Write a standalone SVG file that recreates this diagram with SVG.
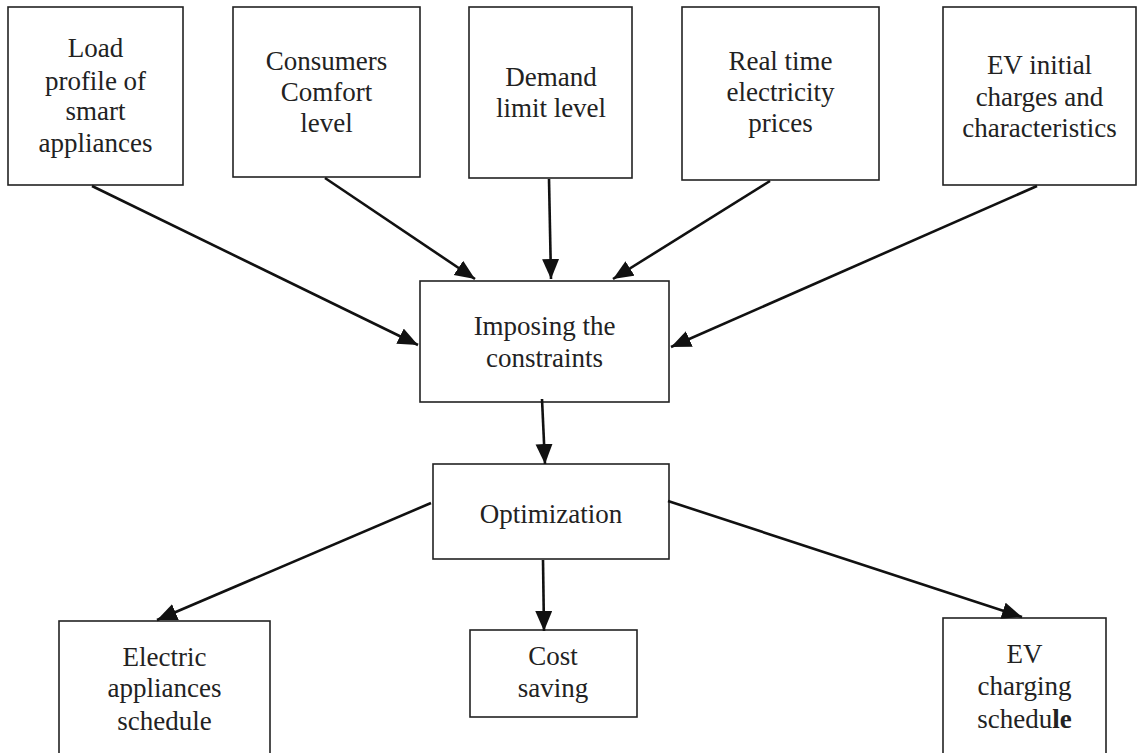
<svg xmlns="http://www.w3.org/2000/svg" width="1137" height="753" viewBox="0 0 1137 753">
<defs>
<style>
.box{fill:#fff;stroke:#222;stroke-width:1.6}
.t{font-family:"Liberation Serif","Times New Roman",serif;font-size:27px;fill:#222;text-anchor:middle}
.c{stroke:#111;stroke-width:2.6;fill:none;marker-end:url(#ah)}
</style>
<marker id="ah" markerUnits="userSpaceOnUse" markerWidth="22" markerHeight="18" refX="20" refY="8.5" orient="auto" viewBox="0 0 22 18">
<path d="M0,0 L20,8.5 L0,17 z" fill="#111"/>
</marker>
</defs>
<rect width="1137" height="753" fill="#fff"/>
<g id="n1"><rect class="box" x="8" y="7" width="175" height="178"/>
<text class="t"><tspan x="95.5" y="57">Load</tspan><tspan x="95.5" y="90">profile of</tspan><tspan x="95.5" y="120">smart</tspan><tspan x="95.5" y="152">appliances</tspan></text></g>
<g id="n2"><rect class="box" x="233" y="7" width="187" height="170"/>
<text class="t"><tspan x="326.5" y="70">Consumers</tspan><tspan x="326.5" y="101">Comfort</tspan><tspan x="326.5" y="132">level</tspan></text></g>
<g id="n3"><rect class="box" x="469" y="7" width="163" height="171"/>
<text class="t"><tspan x="551" y="86">Demand</tspan><tspan x="551" y="117">limit level</tspan></text></g>
<g id="n4"><rect class="box" x="682" y="7" width="197" height="173"/>
<text class="t"><tspan x="780.5" y="70">Real time</tspan><tspan x="780.5" y="101">electricity</tspan><tspan x="780.5" y="132">prices</tspan></text></g>
<g id="n5"><rect class="box" x="943" y="7" width="193" height="178"/>
<text class="t"><tspan x="1039.5" y="74">EV initial</tspan><tspan x="1039.5" y="106">charges and</tspan><tspan x="1039.5" y="137">characteristics</tspan></text></g>
<g id="n6"><rect class="box" x="420" y="281" width="249" height="121"/>
<text class="t"><tspan x="544.5" y="335">Imposing the</tspan><tspan x="544.5" y="367">constraints</tspan></text></g>
<g id="n7"><rect class="box" x="433" y="464" width="236" height="95"/>
<text class="t" x="551" y="523">Optimization</text></g>
<g id="n8"><rect class="box" x="59" y="621" width="211" height="140"/>
<text class="t"><tspan x="164.5" y="666">Electric</tspan><tspan x="164.5" y="697">appliances</tspan><tspan x="164.5" y="730">schedule</tspan></text></g>
<g id="n9"><rect class="box" x="470" y="630" width="167" height="87"/>
<text class="t"><tspan x="553" y="665">Cost</tspan><tspan x="553" y="697">saving</tspan></text></g>
<g id="n10"><rect class="box" x="943" y="618" width="163" height="143"/>
<text class="t"><tspan x="1024.5" y="663">EV</tspan><tspan x="1024.5" y="695">charging</tspan><tspan x="1024.5" y="728">schedu<tspan font-weight="bold">le</tspan></tspan></text></g>
<g id="connectors">
<line class="c" x1="92" y1="186" x2="418" y2="345"/>
<line class="c" x1="325" y1="178" x2="475" y2="279"/>
<line class="c" x1="549" y1="179" x2="551" y2="279"/>
<line class="c" x1="770" y1="181" x2="613" y2="279"/>
<line class="c" x1="1037" y1="186" x2="671" y2="347"/>
<line class="c" x1="542" y1="399" x2="545" y2="464"/>
<line class="c" x1="431" y1="503" x2="157" y2="620"/>
<line class="c" x1="543" y1="560" x2="544" y2="631"/>
<line class="c" x1="668" y1="501" x2="1022" y2="617"/>
</g>
</svg>
